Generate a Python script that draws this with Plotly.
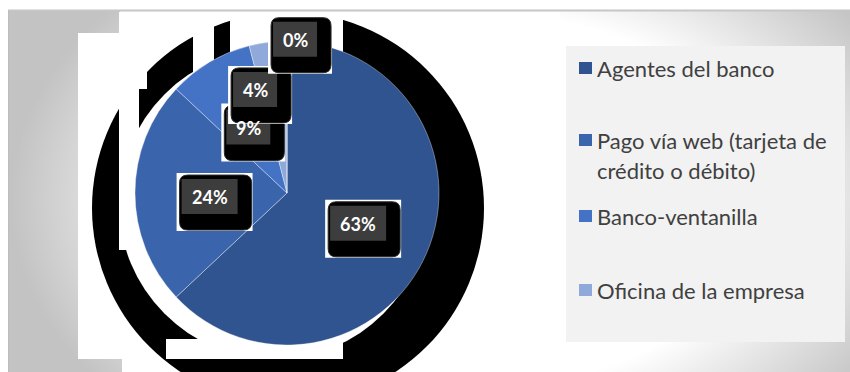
import base64
import math
import textwrap

import plotly.graph_objects as go

# ---- data -----------------------------------------------------------------
categories = [
    "Agentes del banco",
    "Pago vía web (tarjeta de crédito o débito)",
    "Banco-ventanilla",
    "Oficina de la empresa",
    "Otros",
]
shares = [63, 24, 9, 4, 0]
slice_colors = ["#30548F", "#3A64AC", "#4472C4", "#8FA9DA", "#A9BEE4"]

# ---- canvas helpers ---------------------------------------------------------
W, H = 850, 372


def fx(x):
    return x / W


def fy(y):
    return 1 - y / H


# pie placement (pixels)
PIE_CX, PIE_CY, PIE_R = 287, 193, 152

# background: radial grey gradient, white chart area, thin frame line
bg_svg = f"""<svg xmlns='http://www.w3.org/2000/svg' width='{W}' height='{H}' viewBox='0 0 {W} {H}' preserveAspectRatio='none'>
<defs>
<radialGradient id='g' gradientUnits='userSpaceOnUse' cx='480' cy='200' r='470' gradientTransform='translate(480 200) scale(1 0.66) translate(-480 -200)'>
<stop offset='0' stop-color='#ffffff'/>
<stop offset='0.6' stop-color='#ffffff'/>
<stop offset='1' stop-color='#c3c3c3'/>
</radialGradient>
</defs>
<rect x='0' y='0' width='{W}' height='{H}' fill='#ffffff'/>
<rect x='8' y='10' width='{W - 8}' height='{H - 10}' fill='url(#g)'/>
<path d='M120 10 H560 V372 H122 V359 H78 V33 H120 Z' fill='#ffffff'/>
<line x1='8' y1='10.5' x2='{W}' y2='10.5' stroke='#c6c6c6' stroke-width='2'/>
<line x1='8.5' y1='10' x2='8.5' y2='{H}' stroke='#bdbdbd' stroke-width='1'/>
</svg>"""
bg_uri = "data:image/svg+xml;base64," + base64.b64encode(bg_svg.encode("utf-8")).decode("ascii")

shapes = []


def poly(points, color, layer="below"):
    path = "M" + " L".join(f"{fx(x)},{fy(y)}" for x, y in points) + " Z"
    return dict(type="path", xref="paper", yref="paper", layer=layer,
                path=path, fillcolor=color, line=dict(width=0))


# dark, posterised drop shadow behind the pie
shapes.append(dict(type="circle", xref="paper", yref="paper", layer="below",
                   x0=fx(288 - 196), x1=fx(288 + 196), y0=fy(208 + 196), y1=fy(208 - 196),
                   fillcolor="#000000", line=dict(width=0)))
shapes.append(dict(type="circle", xref="paper", yref="paper", layer="below",
                   x0=fx(274 - 155), x1=fx(274 + 155), y0=fy(204 + 155), y1=fy(204 - 155),
                   fillcolor="#ffffff", line=dict(width=0)))
# light gaps breaking up the shadow's upper-left and lower rims
shadow_gaps = [
    [(119, 12), (147, 12), (147, 89), (139, 89), (139, 250), (119, 250)],
    [(147, 12), (193, 12), (193, 22), (186, 26), (178, 34), (170, 42), (162, 50), (154, 56), (147, 62)],
    [(193, 12), (214, 12), (214, 120), (193, 120)],
    [(230, 12), (343, 12), (343, 120), (230, 120)],
    [(166, 339), (343, 339), (343, 359), (166, 359)],
]
for g in shadow_gaps:
    shapes.append(poly(g, "#ffffff"))


def rect(x0, y0, x1, y1, color, layer="above"):
    return dict(type="rect", xref="paper", yref="paper", layer=layer,
                x0=fx(x0), x1=fx(x1), y0=fy(y1), y1=fy(y0),
                fillcolor=color, line=dict(width=0))


def rounded(x0, y0, x1, y1, r, color):
    pts = [
        f"M{fx(x0 + r)},{fy(y0)}",
        f"L{fx(x1 - r)},{fy(y0)}",
        f"Q{fx(x1)},{fy(y0)} {fx(x1)},{fy(y0 + r)}",
        f"L{fx(x1)},{fy(y1 - r)}",
        f"Q{fx(x1)},{fy(y1)} {fx(x1 - r)},{fy(y1)}",
        f"L{fx(x0 + r)},{fy(y1)}",
        f"Q{fx(x0)},{fy(y1)} {fx(x0)},{fy(y1 - r)}",
        f"L{fx(x0)},{fy(y0 + r)}",
        f"Q{fx(x0)},{fy(y0)} {fx(x0 + r)},{fy(y0)}",
        "Z",
    ]
    return dict(type="path", xref="paper", yref="paper", layer="above",
                path=" ".join(pts), fillcolor=color, line=dict(color="#2a2a2a", width=1))


annotations = []

# ---- data labels: boxed percentages placed along each slice's mid-angle ----
label_radius = [0.51, 0.51, 0.50, 0.71, 1.01]
label_nudge = [0, -3, 0, -10, 3]
total = sum(shares)
cum = 0.0
for v, rho, nudge in zip(shares, label_radius, label_nudge):
    mid = (cum + v / 2) / total * 360 + nudge
    cum += v
    t = math.radians(mid)
    tx = PIE_CX + rho * PIE_R * math.sin(t)
    ty = PIE_CY - rho * PIE_R * math.cos(t)
    txt = f"{round(v / total * 100)}%"
    gw = 12 * len(txt) + 20
    shapes.append(rect(tx - gw / 2 - 5, ty - 24, tx + gw / 2 + 15, ty + 34, "#ffffff"))
    shapes.append(rounded(tx - gw / 2 - 2, ty - 22, tx + gw / 2 + 14, ty + 33, 8, "#000000"))
    shapes.append(rect(tx - gw / 2, ty - 18, tx + gw / 2, ty + 17, "#3d3d3d"))
    annotations.append(dict(xref="paper", yref="paper", x=fx(tx), y=fy(ty),
                            xanchor="center", yanchor="middle", showarrow=False,
                            text=f"<b>{txt}</b>",
                            font=dict(family="Lato", size=18, color="#ffffff")))

# ---- legend (listed categories with a non-zero share) -------------------------
shapes.append(rect(566, 46, 845, 342, "#f2f2f2", layer="below"))
legend_rows = [68, 140, 216, 290]
line_pitch = 30
legend_items = [(c, col) for c, col, v in zip(categories, slice_colors, shares) if v > 0]
for (name, col), y in zip(legend_items, legend_rows):
    shapes.append(rect(579, y - 6, 592, y + 6, col, layer="below"))
    for k, line in enumerate(textwrap.wrap(name, width=24)):
        annotations.append(dict(xref="paper", yref="paper", x=fx(595), y=fy(y + k * line_pitch),
                                xanchor="left", yanchor="middle", showarrow=False,
                                text=line, font=dict(family="Lato", size=22, color="#404040")))

fig = go.Figure(go.Pie(
    labels=categories,
    values=shares,
    sort=False,
    direction="clockwise",
    rotation=0,
    marker=dict(colors=slice_colors, line=dict(color="rgba(255,255,255,0.35)", width=1)),
    textinfo="none",
    hoverinfo="skip",
    showlegend=False,
    domain=dict(x=[fx(PIE_CX - PIE_R), fx(PIE_CX + PIE_R)],
                y=[fy(PIE_CY + PIE_R), fy(PIE_CY - PIE_R)]),
))

fig.update_layout(
    width=W,
    height=H,
    margin=dict(l=0, r=0, t=0, b=0),
    paper_bgcolor="#ffffff",
    showlegend=False,
    images=[dict(source=bg_uri, xref="paper", yref="paper", x=0, y=1,
                 sizex=1, sizey=1, xanchor="left", yanchor="top",
                 sizing="stretch", layer="below")],
    shapes=shapes,
    annotations=annotations,
)

fig.write_html("out.html")
